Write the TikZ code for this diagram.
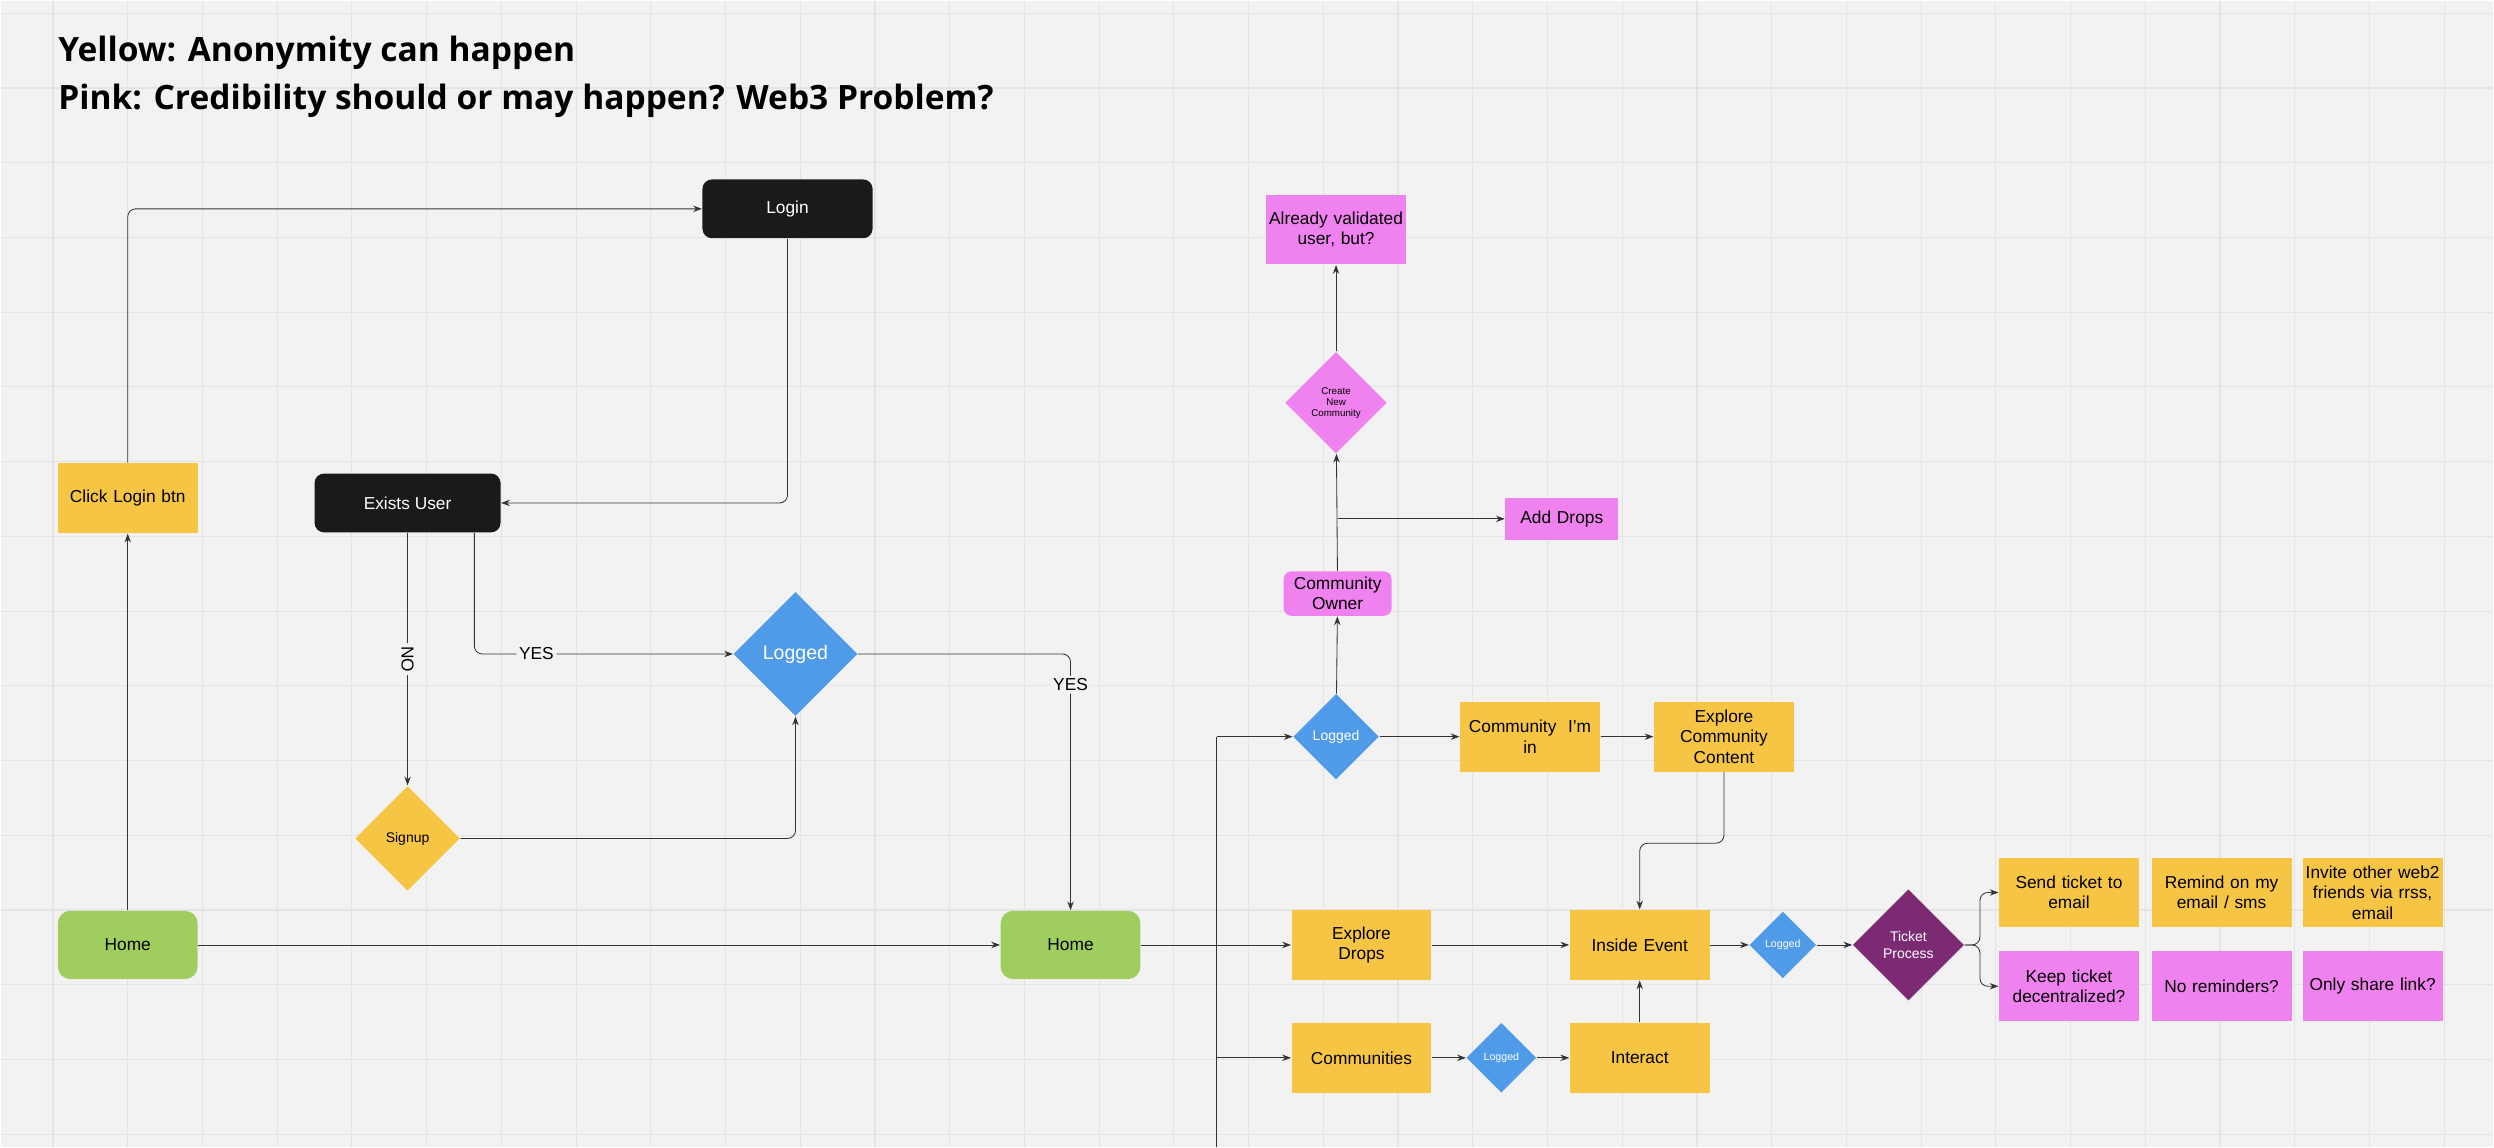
\documentclass[tikz,border=0pt]{standalone}
\usepackage{fontspec}
\setmainfont{Liberation Sans}
\newfontfamily\titlefont{Open Sans}
\usetikzlibrary{shapes.geometric,arrows.meta}
\definecolor{yel}{HTML}{F7C544}
\definecolor{pnk}{HTML}{EF82EE}
\definecolor{blu}{HTML}{4F9BE8}
\definecolor{grn}{HTML}{A0CE5E}
\definecolor{prp}{HTML}{7B2A73}
\definecolor{blk}{HTML}{1A1A1A}
\definecolor{bg}{HTML}{F2F2F2}
\definecolor{grid}{HTML}{E4E4E4}

\begin{document}
\begin{tikzpicture}[x=0.2mm,y=-0.2mm,
	txt/.style={font=\fontsize{6.2}{7.3}\selectfont, align=center, inner sep=0pt},
	sticky/.style={txt, rectangle, minimum width=17.6mm, minimum height=8.8mm, text width=17mm},
	yellow/.style={sticky, fill=yel},
	pink/.style={sticky, fill=pnk},
	dark/.style={txt, rectangle, rounded corners=1.2mm, fill=blk, text=white, minimum height=7.4mm},
	home/.style={txt, rectangle, rounded corners=1.6mm, fill=grn, minimum width=17.6mm, minimum height=8.6mm},
	dia/.style={txt, diamond, aspect=1, minimum size=#1},
	arr/.style={draw=black!80, line width=0.3pt, -{Stealth[length=1.1mm,width=0.8mm]}},
	ln/.style={draw=black!80, line width=0.3pt}]
	% background and grid
	\fill[bg] (0,0) rectangle (1568,721);
	\foreach \x in {33,80,...,1568} \draw[grid, line width=0.4pt] (\x,0) -- (\x,721);
	\foreach \y in {8,55,...,721} \draw[grid, line width=0.4pt] (0,\y) -- (1568,\y);
	\useasboundingbox (0,0) rectangle (1568,721);
	% legend
	\node[anchor=west, font=\titlefont\bfseries\fontsize{12}{14}\selectfont, inner sep=0pt] (leg1) at (36,33) {Yellow: Anonymity can happen};
	\node[anchor=west, font=\titlefont\bfseries\fontsize{12}{14}\selectfont, inner sep=0pt] (leg2) at (36,63) {Pink: Credibility should or may happen? Web3 Problem?};
	% left part
	\node[dark, minimum width=21.4mm] (login) at (495,131) {Login};
	\node[dark, minimum width=23.4mm] (exists) at (256,316) {Exists User};
	\node[yellow] (click) at (80,313) {Click Login btn};
	\node[dia=15.6mm, fill=blu, text=white, font=\fontsize{7}{8}\selectfont] (logged1) at (500,411) {Logged};
	\node[dia=13.2mm, fill=yel, font=\fontsize{5}{6}\selectfont] (signup) at (256,527) {Signup};
	\node[home] (home1) at (80,594) {Home};
	\node[home] (home2) at (673,594) {Home};
	% right part
	\node[pink] (valid) at (840,144) {Already validated\\user, but?};
	\node[dia=12.8mm, fill=pnk, font=\fontsize{3.5}{4}\selectfont] (create) at (840,253) {Create\\New\\Community};
	\node[pink, minimum width=14.2mm, minimum height=5.2mm, text width=13mm] (drops) at (982,326) {Add Drops};
	\node[pink, rounded corners=1mm, minimum width=13.6mm, minimum height=5.6mm, text width=13mm] (owner) at (841,373) {Community Owner};
	\node[dia=10.8mm, fill=blu, text=white, font=\fontsize{5}{6}\selectfont] (logged2) at (840,463) {Logged};
	\node[yellow] (imin) at (962,463) {Community\ \ I'm\\in};
	\node[yellow] (excont) at (1084,463) {Explore\\Community\\Content};
	\node[yellow] (exdrops) at (856,594) {Explore\\Drops};
	\node[yellow] (inside) at (1031,594) {Inside Event};
	\node[dia=8.4mm, fill=blu, text=white, font=\fontsize{3.8}{4.5}\selectfont] (logged3) at (1121,594) {Logged};
	\node[dia=14mm, fill=prp, text=white, font=\fontsize{5}{6}\selectfont] (ticket) at (1200,594) {Ticket\\Process};
	\node[yellow] (send) at (1301,561) {Send ticket to\\email};
	\node[yellow] (remind) at (1397,561) {Remind on my\\email / sms};
	\node[yellow] (invite) at (1492,561) {Invite other web2\\friends via rrss,\\email};
	\node[pink] (keep) at (1301,620) {Keep ticket\\decentralized?};
	\node[pink] (norem) at (1397,620) {No reminders?};
	\node[pink] (share) at (1492,620) {Only share link?};
	\node[yellow] (comms) at (856,665) {Communities};
	\node[dia=8.8mm, fill=blu, text=white, font=\fontsize{3.8}{4.5}\selectfont] (logged4) at (944,665) {Logged};
	\node[yellow] (interact) at (1031,665) {Interact};
	% connectors
	\draw[arr] (home1) -- (click);
	\draw[arr, rounded corners=1mm] (click.north) |- (login.west);
	\draw[arr, rounded corners=1mm] (login.south) |- (exists.east);
	\draw[arr] (exists.south) -- node[txt, fill=bg, rotate=-90, inner sep=1pt] {NO} (signup.north);
	\draw[arr, rounded corners=1mm] ([xshift=8.4mm]exists.south) |- node[pos=0.62, txt, fill=bg, inner sep=1pt] {YES} (logged1.west);
	\draw[arr, rounded corners=1mm] (signup.east) -| (logged1.south);
	\draw[arr, rounded corners=1mm] (logged1.east) -| node[pos=0.56, txt, fill=bg, inner sep=1pt] {YES} (home2.north);
	\draw[arr] (home1) -- (home2);
	\coordinate (bus) at (765,594);
	\coordinate (busend) at (765,721);
	\draw[ln] (home2.east) -- (bus);
	\draw[ln] (765,463) -- (busend);
	\draw[arr] (765,463) -- (logged2.west);
	\draw[arr] (bus) -- (exdrops.west);
	\draw[arr] (765,665) -- (comms.west);
	\draw[arr] (logged2) -- (owner);
	\draw[arr] (owner) -- (create);
	\draw[arr] (create) -- (valid);
	\coordinate (split) at (841,326);
	\draw[arr] (split) -- (drops.west);
	\draw[arr] (logged2) -- (imin);
	\draw[arr] (imin) -- (excont);
	\draw[arr, rounded corners=1mm] (excont.south) |- (1031,530) -- (inside.north);
	\draw[arr] (exdrops) -- (inside);
	\draw[arr] (inside) -- (logged3);
	\draw[arr] (logged3) -- (ticket);
	\draw[arr, rounded corners=1mm] (ticket.east) -- (1245,594) |- (send.west);
	\draw[arr, rounded corners=1mm] (ticket.east) -- (1245,594) |- (keep.west);
	\draw[arr] (comms) -- (logged4);
	\draw[arr] (logged4) -- (interact);
	\draw[arr] (interact) -- (inside);
\end{tikzpicture}
\end{document}
